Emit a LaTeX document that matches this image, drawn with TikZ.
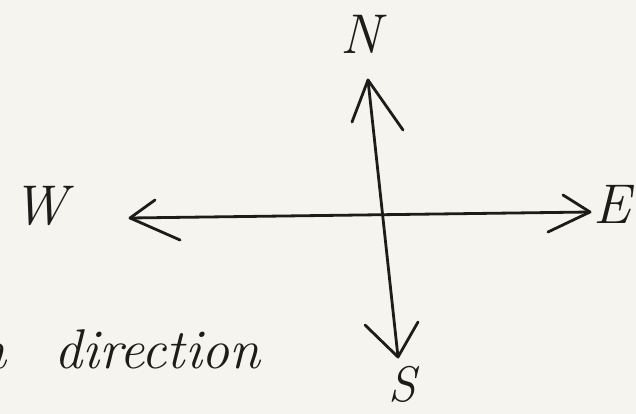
\documentclass[tikz,border=0pt]{standalone}
\usetikzlibrary{calc}
\definecolor{paper}{RGB}{246,244,238}
\definecolor{ink}{RGB}{28,28,26}
\begin{document}
\begin{tikzpicture}[x=1pt,y=-1pt,
  pen/.style={draw=ink,line width=2.8pt,line cap=round,line join=round},
  letter/.style={text=ink,font=\fontsize{56}{56}\selectfont\itshape,inner sep=0pt},
  words/.style={text=ink,font=\fontsize{56}{56}\selectfont\itshape,inner sep=0pt,anchor=base west}]
\fill[paper] (0,0) rectangle (636,414);
\useasboundingbox (0,0) rectangle (636,414);
% labels
\node[letter] (N) at (361,34) {N};
\node[letter,font=\fontsize{50}{50}\selectfont\itshape] (S) at (402,384) {S};
\node[letter] (E) at (612,204) {E};
\node[letter] (W) at (40,206) {W};
\node[words] (dir) at (54,368) {direction};
\node[words,anchor=base east] (frag) at (7,368) {n};
% arrow tips
\coordinate (nt) at (368,80);
\coordinate (st) at (398,357);
\coordinate (wt) at (130,218);
\coordinate (et) at (590,212);
% shafts
\draw[pen] (nt) -- (st);
\draw[pen] (wt) -- (et);
% barbs
\coordinate (nb1) at (352,122); \coordinate (nb2) at (403,130);
\coordinate (sb1) at (365,325); \coordinate (sb2) at (418,322);
\coordinate (wb1) at (155,200); \coordinate (wb2) at (180,240);
\coordinate (eb1) at (563,195); \coordinate (eb2) at (548,232);
\draw[pen] (nb1) -- (nt) -- (nb2);
\draw[pen] (sb1) -- (st) -- (sb2);
\draw[pen] (wb1) -- (wt) -- (wb2);
\draw[pen] (eb1) -- (et) -- (eb2);
\end{tikzpicture}
\end{document}
